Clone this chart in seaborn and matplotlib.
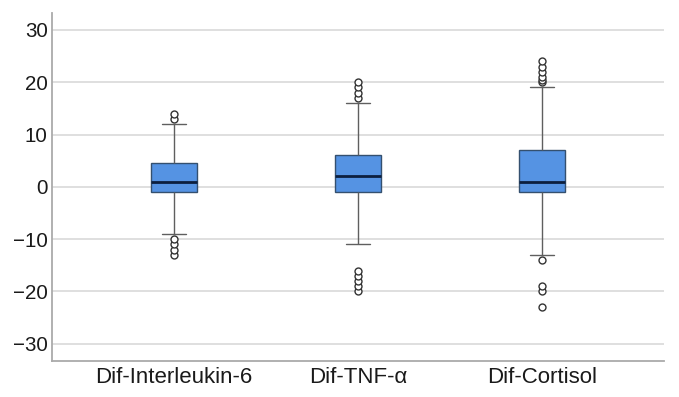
import numpy as np
import pandas as pd
import matplotlib
matplotlib.use("Agg")
import matplotlib.pyplot as plt
import seaborn as sns

categories = ["Dif-Interleukin-6", "Dif-TNF-α", "Dif-Cortisol"]

# Sample values (quartiles, whiskers and outliers)
il6_values = [-13, -12, -11, -10, -9, -1, -1, 0, 0, 1, 1, 2, 2, 3, 4, 4.5,
              6, 9, 12, 13, 14]
tnf_values = [-20, -19, -18, -17, -16, -11, -5, -1, -1, 0, 0, 1, 1, 2, 2,
              3, 3, 4, 4, 5, 5, 6, 10, 13, 16, 17, 18, 19, 20]
cortisol_values = [-23, -20, -19, -14, -13, -8, -5, -3, -1, -1, 0, 0, 0, 1,
                   1, 1, 1, 2, 2, 3, 4, 5, 6, 6, 7, 13, 19, 20, 20.5, 21,
                   22, 23, 24]

y_ticks = [-30, -20, -10, 0, 10, 20, 30]

df = pd.DataFrame({
    "variable": ([categories[0]] * len(il6_values)
                 + [categories[1]] * len(tnf_values)
                 + [categories[2]] * len(cortisol_values)),
    "value": il6_values + tnf_values + cortisol_values,
})

sns.set_theme(style="white")
plt.rcParams["font.family"] = ["Liberation Sans", "DejaVu Sans"]

fig = plt.figure(figsize=(6.79, 3.97), dpi=100)
ax = fig.add_axes([52 / 679, 1 - 361 / 397, (664 - 52) / 679, (361 - 12.7) / 397])

sns.boxplot(
    data=df, x="variable", y="value", order=categories, ax=ax,
    width=0.254, color="#5593E3", whis=1.5,
    boxprops=dict(facecolor="#5593E3", edgecolor="#34506f", linewidth=1.0),
    medianprops=dict(color="#0c1f3f", linewidth=2.0),
    whiskerprops=dict(color="#5f5f5f", linewidth=1.0),
    capprops=dict(color="#5f5f5f", linewidth=1.0),
    flierprops=dict(marker="o", markersize=5, markerfacecolor="white",
                    markeredgecolor="#333333", markeredgewidth=1.0),
    zorder=3,
)

ax.set_xlim(-0.663, 2.663)
ax.set_ylim(-33.3, 33.3)
ax.set_yticks(y_ticks)
ax.set_yticklabels([str(t).replace("-", "\u2212") for t in y_ticks])
ax.grid(axis="y", color="#d9d9d9", linewidth=1.2, zorder=0)
ax.set_axisbelow(True)
ax.set_xlabel("")
ax.set_ylabel("")
ax.tick_params(axis="y", length=0, pad=3, labelsize=14.8, colors="#1a1a1a")
ax.tick_params(axis="x", length=0, pad=4, labelsize=16, colors="#1a1a1a")
for s in ["top", "right"]:
    ax.spines[s].set_visible(False)
for s in ["left", "bottom"]:
    ax.spines[s].set_color("#aaaaaa")
    ax.spines[s].set_linewidth(1.3)

fig.savefig("out.png", dpi=100)
